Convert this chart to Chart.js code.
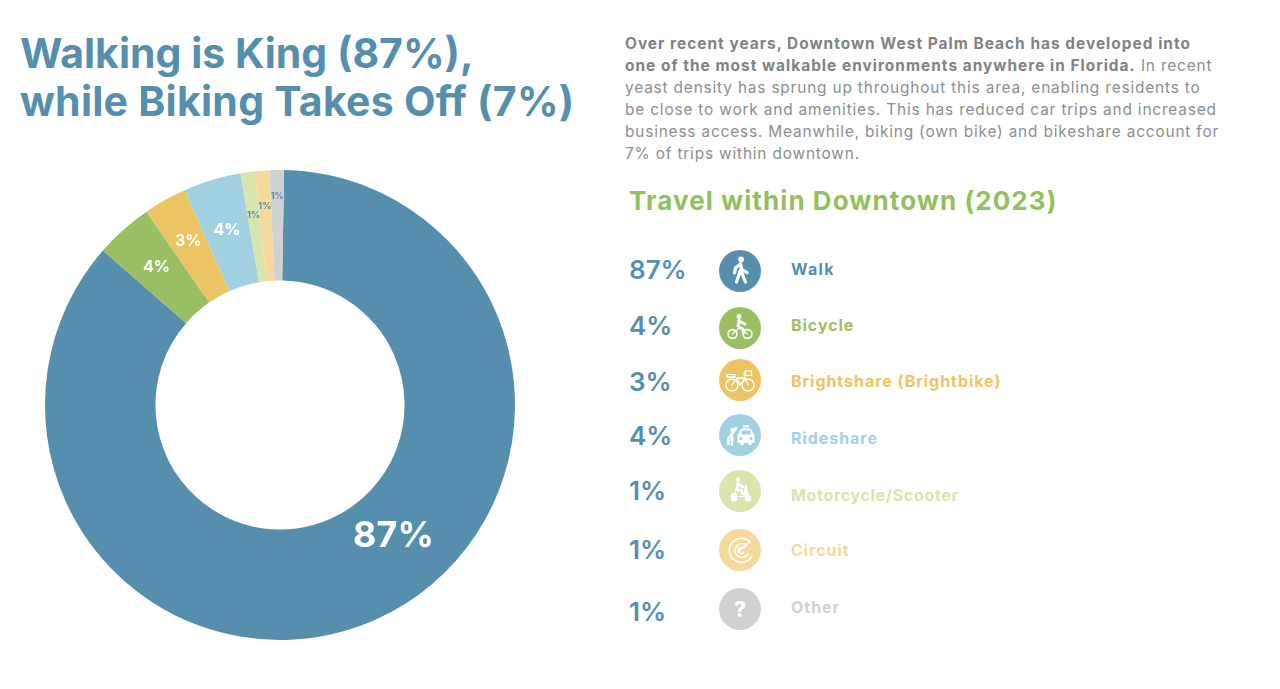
<!DOCTYPE html>
<html>
<head>
  <title>Travel within Downtown (2023)</title>
  <script src="https://cdn.jsdelivr.net/npm/chart.js@4/dist/chart.umd.min.js"></script>
  <style>
    html, body { margin: 0; padding: 0; background: #fff; width: 1280px; height: 689px; overflow: hidden; }
    body { font-family: Inter, "Open Sans", sans-serif; position: relative; }
    .abs { position: absolute; white-space: nowrap; }
    #chartBox { position: absolute; left: 40px; top: 165px; width: 480px; height: 480px; }
    .title { color: #568fae; font-size: 41px; font-weight: 700; line-height: 46px; left: 20px; letter-spacing: 0.25px; }
    .body { color: #8c8e91; font-size: 15.4px; line-height: 22px; left: 625px; letter-spacing: 0.83px; }
    .body b { font-weight: 700; color: #808285; letter-spacing: 1.03px; }
    .sub { color: #94bf5f; font-size: 26px; font-weight: 700; left: 629px; top: 185px; line-height: 32px; letter-spacing: 1.07px; }
    .pct { color: #568fae; font-size: 26px; font-weight: 600; left: 629px; line-height: 30px; }
    .lab { font-size: 16px; font-weight: 700; left: 791px; line-height: 20px; }
    .icon { position: absolute; left: 719px; width: 42px; height: 42px; }
  </style>
</head>
<body>
  <div class="abs title" style="top:30px;letter-spacing:0">Walking is King (87%),</div>
  <div class="abs title" style="top:78px">while Biking Takes Off (7%)</div>

  <div class="abs body" style="top:33px"><b>Over recent years, Downtown West Palm Beach has developed into</b></div>
  <div class="abs body" style="top:55px"><b>one of the most walkable environments anywhere in Florida.</b> In recent</div>
  <div class="abs body" style="top:77px">yeast density has sprung up throughout this area, enabling residents to</div>
  <div class="abs body" style="top:99px">be close to work and amenities. This has reduced car trips and increased</div>
  <div class="abs body" style="top:121px">business access. Meanwhile, biking (own bike) and bikeshare account for</div>
  <div class="abs body" style="top:143px">7% of trips within downtown.</div>

  <div class="abs sub">Travel within Downtown (2023)</div>

  <div id="chartBox"><canvas id="myChart" width="480" height="480"></canvas></div>
  <div id="legend"></div>

  <script>
    // values as printed on the chart
    const categories = ['Walk', 'Bicycle', 'Brightshare (Brightbike)', 'Rideshare', 'Motorcycle/Scooter', 'Circuit', 'Other'];
    const shares = [87, 4, 3, 4, 1, 1, 1];
    const colors = ['#568fae', '#9abf63', '#edc464', '#a1d1e1', '#d8e6ad', '#f5d99d', '#d0d1d3'];

    // label styling per slice: font size, colour, where along the ring it sits,
    // and how far it is turned away from the middle of its slice (degrees)
    const labelSizes = [36, 16, 16, 16, 9, 9, 9];
    const labelColors = ['#fff', '#fff', '#fff', '#fff', '#568fae', '#568fae', '#568fae'];
    const labelRing = [0.44, 0.55, 0.57, 0.53, 0.61, 0.68, 0.76];
    const labelTurn = [-17, 0, 0, 0, 0, 0, 0];

    // legend row positions (they are not evenly spaced in the original)
    const pctY = [270, 326, 382, 436, 491, 550, 612];
    const iconY = [271, 328, 380, 435, 491, 550, 609];
    const labY = [269, 325, 381, 438, 495, 550, 607];
    const labSpacing = [1.3, 0.95, 0.95, 0.95, 0.67, 0.95, 0.95];

    const W = 'fill="#fff"';
    const S = 'fill="none" stroke="#fff" stroke-linecap="round"';
    const icons = [
      // walker
      `<circle cx="22" cy="9.5" r="2.9" ${W}/><path d="M21.5 14 L16.5 18 L15.5 23 M21.5 14 L23 20 L28 22.5 M21.5 20 L17.5 32 M22 21 L26.5 32" ${S} stroke-width="3.2"/>`,
      // bicycle
      `<circle cx="20" cy="9.5" r="2.4" ${W}/><path d="M20 13 L19 19 L24 22 L24.5 26 M20 14 L26 17" ${S} stroke-width="2.8"/><circle cx="13.5" cy="27" r="4.4" ${S} stroke-width="1.6"/><circle cx="28.5" cy="27" r="4.4" ${S} stroke-width="1.6"/><path d="M13.5 27 L20 21 L28.5 27" ${S} stroke-width="1.3"/>`,
      // bikeshare bike with basket
      `<circle cx="13" cy="26" r="6" ${S} stroke-width="1.3"/><circle cx="29" cy="26" r="6" ${S} stroke-width="1.3"/><path d="M13 26 L18 19 L26 19 L29 26 M18 19 L21 26 L26 19 M25 14 L26 19 M7.5 18 H16" ${S} stroke-width="1.3"/><rect x="8" y="15.5" width="8" height="2.6" fill="none" stroke="#fff"/><rect x="26" y="12" width="6.5" height="4.5" fill="none" stroke="#fff" stroke-width="1.2"/>`,
      // rider waving and taxi
      `<circle cx="13.5" cy="16" r="2.3" ${W}/><path d="M13 20 L17 14 M13 20 L9.5 24 M13 20 V31 M9.5 24 V30" ${S} stroke-width="2.6"/><rect x="24" y="11" width="6" height="2.6" ${W}/><path d="M20.5 18 Q21.5 14.5 24 14.5 H30 Q32.5 14.5 33.5 18 L35.5 21 V29 H32.5 V31 H29.5 V29 H24.5 V31 H21.5 V29 H18.5 V21 Z" ${W}/><rect x="22.5" y="16.5" width="9" height="4" fill="#a1d1e1"/><circle cx="22" cy="24.5" r="1.5" fill="#a1d1e1"/><circle cx="32" cy="24.5" r="1.5" fill="#a1d1e1"/>`,
      // scooter
      `<circle cx="19" cy="9.5" r="2.3" ${W}/><path d="M19 13 L17.5 20 H22.5 L23.5 24 M19 14 L24 17" ${S} stroke-width="2.6"/><path d="M11 27 Q11.5 22.5 17 22 L18 26 H24 L26 15 H27.5 L30 25 Q31 26 31.5 27 Z" ${W}/><circle cx="15" cy="28.5" r="3.2" ${W}/><circle cx="29" cy="28.5" r="3.2" ${W}/>`,
      // circuit logo
      `<path d="M29 25 A7 7 0 1 1 28 16.5 L20 22 M33 27 A12 12 0 1 1 31 13 L19 21 M24.5 23.5 A3 3 0 1 1 23 18.5" ${S} stroke-width="1.5"/>`,
      // question mark
      `<text x="21" y="29" text-anchor="middle" font-family="Inter" font-weight="800" font-size="21" fill="#fff">?</text>`
    ];

    const legend = document.getElementById('legend');
    categories.forEach((name, i) => {
      legend.innerHTML +=
        `<div class="abs pct" style="top:${pctY[i] - 15}px">${shares[i]}%</div>` +
        `<svg class="icon" viewBox="0 0 42 42" style="top:${iconY[i] - 21}px"><circle cx="21" cy="21" r="21" fill="${colors[i]}"/>${icons[i]}</svg>` +
        `<div class="abs lab" style="top:${labY[i] - 10}px;color:${colors[i]};letter-spacing:${labSpacing[i]}px">${name}</div>`;
    });

    // print the share on each slice
    const sliceLabels = {
      id: 'sliceLabels',
      afterDatasetsDraw(chart) {
        const ctx = chart.ctx;
        chart.getDatasetMeta(0).data.forEach((arc, i) => {
          const mid = (arc.startAngle + arc.endAngle) / 2 + labelTurn[i] * Math.PI / 180;
          const r = arc.innerRadius + (arc.outerRadius - arc.innerRadius) * labelRing[i];
          ctx.save();
          ctx.fillStyle = labelColors[i];
          ctx.font = '700 ' + labelSizes[i] + 'px Inter';
          ctx.textAlign = 'center';
          ctx.textBaseline = 'middle';
          ctx.fillText(shares[i] + '%', arc.x + Math.cos(mid) * r, arc.y + Math.sin(mid) * r);
          ctx.restore();
        });
      }
    };

    new Chart(document.getElementById('myChart'), {
      type: 'doughnut',
      data: {
        labels: categories,
        datasets: [{ data: shares, backgroundColor: colors, borderWidth: 0, hoverOffset: 0 }]
      },
      options: {
        responsive: false,
        animation: false,
        rotation: 1,
        cutout: '53%',
        layout: { padding: 5 },
        plugins: { legend: { display: false }, tooltip: { enabled: false } }
      },
      plugins: [sliceLabels]
    });
  </script>
</body>
</html>
